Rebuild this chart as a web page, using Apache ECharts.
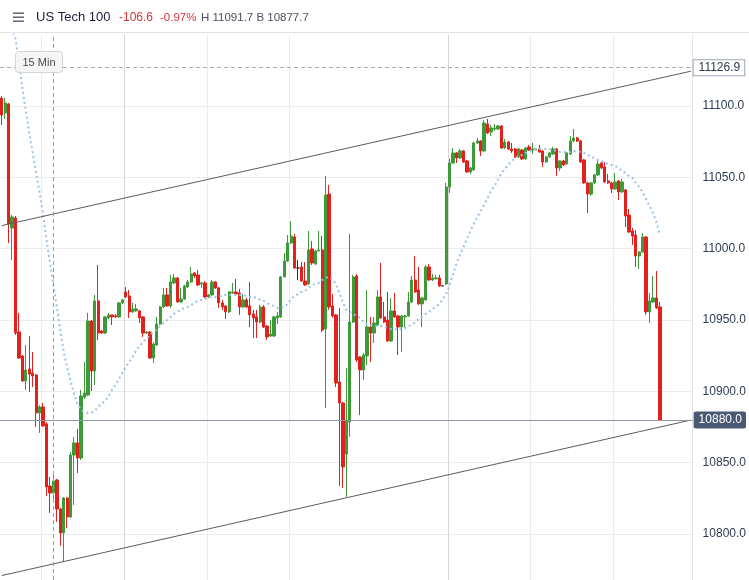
<!DOCTYPE html>
<html>
<head>
<meta charset="utf-8">
<script src="https://cdn.jsdelivr.net/npm/echarts@6.0.0/dist/echarts.min.js"></script>
<style>
html,body{margin:0;padding:0;background:#fff;}
#chart{width:749px;height:580px;}
</style>
</head>
<body>
<div id="chart"></div>
<script>
// ---- data (15-minute candles) ----
const slotCount = 201; // 192 candles + empty slots to the right edge
const categories = Array.from({length: slotCount}, (_, i) => 'C' + i);

const openVals = [11105.6, 11095.1, 11101.4, 11014.5, 11021.5, 10941.6, 10924.8, 10907.3, 10915.7, 10912.9,
 10911.5, 10884.9, 10889.1, 10877.2, 10833.7, 10828.8, 10837.9, 10817.6, 10800.8, 10825.3,
 10812.0, 10855.4, 10863.9, 10853.3, 10896.1, 10897.5, 10949.3, 10914.3, 10963.4, 10942.3,
 10940.9, 10951.5, 10953.6, 10952.9, 10952.2, 10962.0, 10969.7, 10966.9, 10955.7, 10956.4,
 10956.4, 10952.2, 10940.9, 10941.6, 10923.4, 10932.5, 10947.2, 10959.2, 10967.6, 10959.9,
 10976.0, 10979.5, 10962.7, 10964.8, 10973.2, 10976.7, 10983.0, 10981.6, 10975.3, 10976.0,
 10966.2, 10967.6, 10976.7, 10972.5, 10962.0, 10959.9, 10955.7, 10969.0, 10969.7, 10969.0,
 10959.2, 10964.1, 10959.9, 10954.3, 10952.2, 10948.6, 10959.2, 10945.8, 10938.8, 10938.8,
 10951.5, 10952.2, 10980.2, 10991.4, 11004.0, 11008.2, 10986.5, 10987.2, 10977.4, 10975.3,
 10999.8, 10989.3, 10998.4, 10999.1, 10943.7, 11038.3, 10959.9, 10953.6, 10906.6, 10891.9,
 10856.1, 10878.6, 10948.6, 10980.9, 10924.1, 10915.0, 10924.8, 10945.1, 10940.9, 10946.5,
 10966.2, 10952.2, 10950.0, 10935.3, 10956.4, 10952.9, 10945.1, 10952.2, 10952.9, 10962.7,
 10978.1, 10971.1, 10961.3, 10964.1, 10987.2, 10978.1, 10978.8, 10979.5, 10973.9, 10975.3,
 11043.3, 11060.1, 11067.1, 11063.6, 11068.5, 11061.5, 11053.8, 11055.2, 11074.1, 11075.5,
 11068.5, 11087.4, 11081.8, 11083.9, 11083.9, 11086.0, 11070.6, 11074.8, 11069.9, 11069.9,
 11064.3, 11069.2, 11062.9, 11071.3, 11069.2, 11069.2, 11069.9, 11068.5, 11060.8, 11064.3,
 11066.4, 11069.9, 11056.6, 11061.5, 11059.4, 11066.4, 11075.5, 11077.6, 11075.5, 11062.2,
 11046.1, 11038.3, 11046.1, 11051.7, 11060.1, 11057.3, 11047.5, 11046.1, 11041.9, 11047.5,
 11039.8, 11041.2, 11023.6, 11012.4, 11009.6, 10994.9, 10997.7, 11008.2, 10955.7, 10962.7,
 10965.5, 10959.2];

const closeVals = [11093.7, 11102.1, 11017.3, 11022.2, 10940.9, 10923.4, 10907.3, 10915.0, 10912.2, 10910.8,
 10884.9, 10889.1, 10875.8, 10833.0, 10828.8, 10837.2, 10817.6, 10800.8, 10825.3, 10812.0,
 10855.4, 10863.9, 10853.3, 10896.8, 10898.9, 10949.3, 10914.3, 10963.4, 10940.9, 10940.9,
 10952.2, 10953.6, 10952.2, 10952.2, 10962.0, 10964.1, 10966.2, 10955.7, 10957.8, 10957.8,
 10951.5, 10940.9, 10941.6, 10923.4, 10933.2, 10947.2, 10959.2, 10967.6, 10959.9, 10976.7,
 10979.5, 10962.7, 10964.8, 10973.9, 10976.7, 10982.3, 10980.9, 10974.6, 10976.0, 10966.2,
 10967.6, 10976.7, 10972.5, 10962.0, 10959.2, 10955.7, 10969.7, 10969.7, 10968.3, 10959.2,
 10964.1, 10959.2, 10953.6, 10951.5, 10948.6, 10959.2, 10945.1, 10938.1, 10940.2, 10952.2,
 10952.9, 10980.2, 10991.4, 11004.0, 11008.9, 10986.5, 10986.5, 10977.4, 10974.6, 10999.1,
 10990.0, 10998.4, 10999.1, 10943.0, 11037.6, 10959.2, 10952.9, 10905.9, 10891.9, 10847.0,
 10880.0, 10948.6, 10980.2, 10922.0, 10915.0, 10925.5, 10945.1, 10940.9, 10947.9, 10966.2,
 10951.5, 10948.6, 10935.3, 10956.4, 10952.2, 10945.1, 10952.9, 10952.9, 10962.7, 10978.1,
 10969.7, 10961.3, 10965.5, 10987.2, 10978.1, 10979.5, 10979.5, 10973.9, 10973.9, 11043.3,
 11060.1, 11067.1, 11063.6, 11068.5, 11060.8, 11053.8, 11056.6, 11074.1, 11075.5, 11068.5,
 11088.1, 11081.1, 11084.6, 11084.6, 11086.0, 11070.6, 11074.8, 11069.9, 11068.5, 11064.3,
 11069.9, 11062.9, 11070.6, 11069.2, 11069.9, 11069.9, 11067.8, 11060.8, 11064.3, 11067.1,
 11069.9, 11056.6, 11061.5, 11058.7, 11067.1, 11075.5, 11077.6, 11075.5, 11060.8, 11046.1,
 11038.3, 11046.1, 11051.7, 11059.4, 11056.6, 11046.8, 11046.1, 11041.9, 11046.8, 11039.8,
 11046.8, 11022.9, 11011.7, 11008.9, 10994.9, 10997.7, 11008.2, 10955.7, 10963.4, 10965.5,
 10958.5, 10880.0];

const lowVals = [11086.7, 11090.9, 11004.0, 10992.1, 10939.5, 10922.7, 10906.6, 10901.0, 10899.6, 10903.1,
 10875.1, 10870.9, 10875.1, 10826.7, 10814.8, 10822.5, 10808.5, 10791.7, 10780.4, 10804.3,
 10811.3, 10820.4, 10842.8, 10851.9, 10894.7, 10896.8, 10900.3, 10904.5, 10936.0, 10940.2,
 10940.2, 10950.7, 10946.5, 10951.5, 10951.5, 10961.3, 10965.5, 10951.5, 10955.0, 10955.7,
 10947.9, 10938.1, 10940.2, 10922.7, 10919.9, 10931.8, 10946.5, 10958.5, 10959.2, 10958.5,
 10975.3, 10962.0, 10962.0, 10964.1, 10972.5, 10976.0, 10979.5, 10973.9, 10972.5, 10965.5,
 10965.5, 10966.9, 10971.8, 10958.5, 10957.1, 10950.7, 10955.0, 10968.3, 10967.6, 10953.6,
 10958.5, 10958.5, 10945.1, 10937.4, 10937.4, 10947.9, 10944.4, 10936.0, 10938.1, 10938.1,
 10947.2, 10951.5, 10980.2, 10990.7, 11003.3, 10985.8, 10978.1, 10976.7, 10973.9, 10974.6,
 10988.6, 10988.6, 10998.4, 10941.6, 10888.4, 10957.1, 10951.5, 10903.1, 10833.7, 10832.3,
 10826.0, 10868.1, 10947.9, 10920.6, 10883.5, 10908.0, 10918.5, 10920.6, 10933.9, 10945.8,
 10950.7, 10947.9, 10934.6, 10934.6, 10951.5, 10925.5, 10927.6, 10944.4, 10952.2, 10962.0,
 10969.0, 10960.6, 10945.1, 10963.4, 10977.4, 10977.4, 10978.8, 10973.2, 10973.9, 10974.6,
 11039.1, 11059.4, 11060.1, 11062.9, 11060.1, 11053.1, 11052.4, 11054.5, 11073.4, 11065.0,
 11067.8, 11080.4, 11079.0, 11082.5, 11083.2, 11069.9, 11069.9, 11069.2, 11067.1, 11063.6,
 11063.6, 11062.2, 11062.2, 11068.5, 11066.4, 11069.2, 11067.1, 11057.3, 11060.1, 11063.6,
 11065.7, 11051.0, 11054.5, 11058.0, 11058.7, 11065.7, 11074.8, 11074.8, 11060.1, 11045.4,
 11025.0, 11036.9, 11045.4, 11051.0, 11055.9, 11046.1, 11045.4, 11039.1, 11041.2, 11034.1,
 11039.1, 11015.2, 11011.0, 11002.6, 10987.2, 10985.8, 10997.0, 10953.6, 10947.9, 10962.0,
 10957.8, 10879.3];

const highVals = [11107.0, 11105.6, 11102.1, 11023.6, 11022.9, 10955.0, 10925.5, 10932.5, 10938.8, 10927.6,
 10912.2, 10890.5, 10891.9, 10878.6, 10840.0, 10841.4, 10838.6, 10818.3, 10826.0, 10826.0,
 10857.5, 10868.1, 10873.7, 10901.0, 10920.6, 10955.0, 10950.0, 10967.6, 10988.6, 10943.0,
 10952.9, 10955.0, 10953.6, 10954.3, 10962.7, 10964.8, 10973.2, 10971.1, 10962.0, 10961.3,
 10957.1, 10952.9, 10942.3, 10942.3, 10934.6, 10952.2, 10959.9, 10972.5, 10972.5, 10981.6,
 10982.3, 10980.2, 10972.5, 10974.6, 10978.1, 10987.2, 10983.7, 10985.1, 10976.7, 10977.4,
 10968.3, 10978.1, 10977.4, 10973.2, 10964.1, 10960.6, 10970.4, 10976.0, 10978.8, 10971.8,
 10968.3, 10965.5, 10976.7, 10957.1, 10957.1, 10960.6, 10960.6, 10946.5, 10950.0, 10952.9,
 10955.7, 10980.9, 10997.0, 11009.6, 11019.4, 11010.3, 10992.1, 10990.7, 10990.7, 11012.4,
 11005.4, 10999.1, 11012.4, 11008.9, 11051.0, 11044.7, 10968.3, 10954.3, 10958.5, 10892.6,
 10916.4, 11010.3, 10981.6, 10982.3, 10924.8, 10926.9, 10971.1, 10952.2, 10952.2, 10971.1,
 10990.0, 10962.7, 10969.7, 10965.5, 10969.0, 10953.6, 10953.6, 10953.6, 10969.7, 10980.9,
 10994.9, 10987.2, 10966.2, 10988.6, 10989.3, 10982.3, 10981.6, 10981.6, 10974.6, 11046.1,
 11062.9, 11070.6, 11067.8, 11069.9, 11069.2, 11062.2, 11057.3, 11074.8, 11077.6, 11076.2,
 11090.2, 11090.9, 11086.7, 11087.4, 11086.7, 11086.7, 11076.9, 11075.5, 11074.1, 11070.6,
 11070.6, 11069.9, 11071.3, 11072.7, 11074.1, 11070.6, 11072.7, 11069.2, 11065.0, 11067.8,
 11071.3, 11070.6, 11062.2, 11062.2, 11067.8, 11079.0, 11083.9, 11078.3, 11076.2, 11062.9,
 11046.8, 11046.8, 11052.4, 11062.2, 11061.5, 11060.8, 11052.4, 11046.8, 11053.1, 11048.2,
 11048.9, 11041.9, 11027.8, 11014.5, 11013.1, 10998.4, 11011.0, 11008.9, 10969.0, 10980.9,
 10984.4, 10962.7];

// moving average (dotted blue)
const maValues = [null, null, null, 11154.7, 11147.0, 11130.2, 11112.6, 11096.5, 11081.1, 11067.1,
 11053.1, 11039.1, 11024.3, 11006.1, 10990.7, 10974.6, 10959.2, 10943.0, 10927.6, 10916.4,
 10907.3, 10898.2, 10891.2, 10887.0, 10885.6, 10884.9, 10884.9, 10886.3, 10889.1, 10891.2,
 10893.3, 10896.8, 10901.0, 10904.5, 10908.7, 10912.9, 10917.1, 10920.6, 10924.1, 10929.0,
 10931.8, 10934.6, 10936.7, 10939.5, 10941.6, 10943.7, 10945.8, 10947.9, 10950.0, 10952.2,
 10954.3, 10955.7, 10957.1, 10958.5, 10959.2, 10960.6, 10962.0, 10963.4, 10964.1, 10964.8,
 10965.5, 10966.2, 10966.2, 10966.9, 10966.9, 10967.6, 10967.6, 10967.6, 10967.6, 10967.6,
 10967.6, 10966.9, 10966.2, 10966.2, 10965.5, 10964.1, 10963.4, 10962.0, 10960.6, 10959.9,
 10958.5, 10958.5, 10959.2, 10961.3, 10964.8, 10966.9, 10968.3, 10969.7, 10970.4, 10972.5,
 10974.6, 10975.3, 10976.0, 10978.1, 10979.5, 10980.2, 10978.8, 10975.3, 10969.0, 10962.7,
 10957.1, 10955.7, 10954.3, 10952.9, 10951.5, 10948.6, 10947.2, 10946.5, 10945.8, 10945.8,
 10945.8, 10945.1, 10944.4, 10943.7, 10943.7, 10943.0, 10943.7, 10944.4, 10945.8, 10946.5,
 10948.6, 10950.7, 10952.2, 10954.3, 10955.7, 10957.8, 10959.2, 10961.3, 10964.8, 10968.3,
 10974.6, 10982.3, 10990.0, 10995.6, 11001.2, 11006.8, 11012.4, 11017.3, 11022.2, 11026.4,
 11030.6, 11035.5, 11040.5, 11044.0, 11048.2, 11053.1, 11055.9, 11058.7, 11061.5, 11063.6,
 11065.0, 11065.7, 11067.1, 11067.8, 11069.2, 11069.9, 11069.9, 11069.9, 11069.9, 11069.9,
 11069.2, 11068.5, 11067.8, 11067.8, 11067.8, 11067.8, 11068.5, 11068.5, 11067.8, 11067.1,
 11065.7, 11064.3, 11063.6, 11062.2, 11061.5, 11060.1, 11059.4, 11058.7, 11058.0, 11056.6,
 11054.5, 11053.1, 11051.0, 11049.6, 11046.1, 11043.3, 11039.8, 11034.8, 11029.9, 11025.0,
 11018.7, 11009.6];

// channel trend lines [start value, end value] at first / last slot
const upperTrend = [11016.2, 11124.4];
const lowerTrend = [10770.9, 10879.9];
const lastPrice = 10880.0;
const crossLevel = 11126.9;
const crossSlot = 15;
const verticalGridSlots = [12, 36, 60, 84, 130, 154, 178];
// visible price window and tick labels
const yRange = {min: 10767.8, max: 11150};
const yTickValues = [10800, 10850, 10900, 10950, 11000, 11050, 11100];

const UP = '#3c9b38', DOWN = '#e2211c';
const FONT = '"Liberation Sans", Arial, Helvetica, sans-serif';

const candleData = openVals.map((o, i) => [o, closeVals[i], lowVals[i], highVals[i]]);

const chart = echarts.init(document.getElementById('chart'), null, {renderer: 'canvas'});

const option = {
  animation: false,
  backgroundColor: '#ffffff',
  grid: {left: 0, right: 56, top: 34.67, bottom: 0, containLabel: false},
  xAxis: {
    type: 'category',
    data: categories,
    boundaryGap: true,
    axisLine: {show: false},
    axisTick: {show: false},
    axisLabel: {show: false},
    splitLine: {
      show: true,
      interval: (idx) => verticalGridSlots.includes(idx),
      lineStyle: {color: ['#ececec', '#d6d6d6', '#ececec', '#ececec', '#d6d6d6', '#ececec', '#ececec', '#e6e6e6'], width: 1}
    }
  },
  yAxis: {
    type: 'value',
    position: 'right',
    min: yRange.min,
    max: yRange.max,
    axisLine: {show: false},
    axisTick: {show: false, customValues: yTickValues},
    axisLabel: {
      customValues: yTickValues,
      margin: 10,
      color: '#2f3b50',
      fontSize: 12,
      fontFamily: FONT,
      formatter: (v) => Number(v).toFixed(1)
    },
    splitLine: {show: true, lineStyle: {color: '#ececec', width: 1}}
  },
  series: [
    {
      type: 'candlestick',
      data: candleData,
      barWidth: 2.8,
      z: 2,
      itemStyle: {
        color: UP, color0: DOWN,
        borderColor: UP, borderColor0: DOWN,
        borderColorDoji: '#2a2a2a',
        borderWidth: 1
      },
      markLine: {
        silent: true,
        animation: false,
        symbol: ['none', 'none'],
        label: {show: false},
        lineStyle: {color: '#5c5c5c', width: 1, type: 'solid'},
        data: [
          [{coord: [0, upperTrend[0]]}, {coord: [slotCount - 1, upperTrend[1]]}],
          [{coord: [0, lowerTrend[0]]}, {coord: [slotCount - 1, lowerTrend[1]]}],
          {xAxis: crossSlot, lineStyle: {color: '#9d9ab2', type: [4, 3], width: 1}, label: {show: false}},
          {
            yAxis: crossLevel,
            lineStyle: {color: '#aaaaaa', type: [4, 3], width: 1},
            label: {
              show: true, position: 'end', distance: 1,
              formatter: crossLevel.toFixed(1),
              color: '#2f3b50', fontSize: 12, fontFamily: FONT, lineHeight: 13,
              backgroundColor: '#ffffff', borderColor: '#9ea3b5', borderWidth: 1,
              padding: [1, 4, 1, 5]
            }
          },
          {
            yAxis: lastPrice,
            lineStyle: {color: '#8e95a2', type: 'solid', width: 1},
            label: {
              show: true, position: 'end', distance: 1,
              formatter: lastPrice.toFixed(1),
              color: '#ffffff', fontSize: 12, fontFamily: FONT, lineHeight: 13,
              backgroundColor: '#4b5a74', borderRadius: 2,
              padding: [2, 4, 2, 5]
            }
          }
        ]
      }
    },
    {
      type: 'line',
      data: maValues,
      symbol: 'none',
      smooth: false,
      silent: true,
      z: 3,
      lineStyle: {color: '#9cc2e8', width: 2, type: [2, 3]}
    }
  ],
  graphic: [
    {type: 'rect', z: 100, silent: true, shape: {x: 0, y: 0, width: 749, height: 32}, style: {fill: '#ffffff'}},
    {type: 'rect', z: 100, silent: true, shape: {x: 0, y: 32, width: 749, height: 1}, style: {fill: '#e3e3e3'}},
    {type: 'rect', z: 100, silent: true, shape: {x: 13, y: 12.5, width: 11, height: 1.4}, style: {fill: '#55596a'}},
    {type: 'rect', z: 100, silent: true, shape: {x: 13, y: 16.5, width: 11, height: 1.4}, style: {fill: '#55596a'}},
    {type: 'rect', z: 100, silent: true, shape: {x: 13, y: 20.5, width: 11, height: 1.4}, style: {fill: '#55596a'}},
    {type: 'text', z: 100, silent: true, x: 36, y: 17,
      style: {text: 'US Tech 100', fill: '#1b1e3c', font: '13px ' + FONT, verticalAlign: 'middle', align: 'left'}},
    {type: 'text', z: 100, silent: true, x: 119, y: 17.5,
      style: {text: '-106.6', fill: '#d5343b', font: '12px ' + FONT, verticalAlign: 'middle', align: 'left'}},
    {type: 'text', z: 100, silent: true, x: 160, y: 17.5,
      style: {text: '-0.97%', fill: '#d5343b', font: '11.5px ' + FONT, verticalAlign: 'middle', align: 'left'}},
    {type: 'text', z: 100, silent: true, x: 201, y: 17.5,
      style: {text: 'H 11091.7 B 10877.7', fill: '#4b5060', font: '11.5px ' + FONT, verticalAlign: 'middle', align: 'left'}},
    {type: 'rect', z: 100, silent: true, shape: {x: 15.5, y: 51.5, width: 47, height: 21, r: 3},
      style: {fill: '#f5f5f5', stroke: '#d4d4d4', lineWidth: 1}},
    {type: 'text', z: 101, silent: true, x: 39, y: 62.5,
      style: {text: '15 Min', fill: '#4a4a4a', font: '11px ' + FONT, verticalAlign: 'middle', align: 'center'}}
  ]
};

chart.setOption(option);
</script>
</body>
</html>
